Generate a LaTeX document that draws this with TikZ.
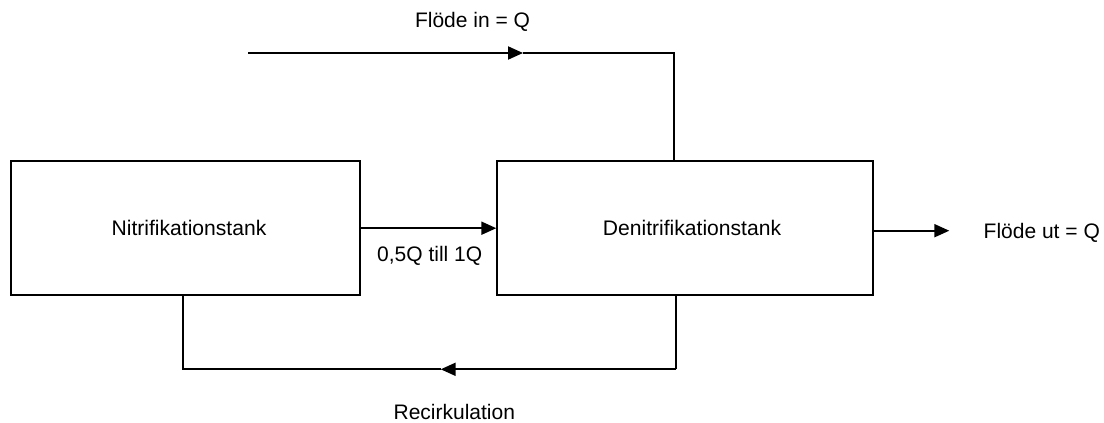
\documentclass[tikz,border=0pt]{standalone}
\usepackage{fontspec}
\setmainfont{Liberation Sans}
\usetikzlibrary{arrows.meta}
\begin{document}
\begin{tikzpicture}[x=0.5pt,y=-0.5pt,
  line width=1pt,
  tank/.style={draw, rectangle, inner sep=0pt, minimum height=67.15pt, font=\fontsize{10.55pt}{12pt}\selectfont},
  lbl/.style={inner sep=0pt, font=\fontsize{10.5pt}{12pt}\selectfont},
  tip/.style={-{Triangle[length=7.5pt,width=6.5pt]}}]
\useasboundingbox (0,0) rectangle (1104,423);
\node[tank, minimum width=174.65pt] (nitri) at (185.3,228.2) {\hspace*{3.7pt}Nitrifikationstank};
\node[tank, minimum width=187.7pt] (deni) at (685,228.2) {\hspace*{7pt}Denitrifikationstank};
% inflow
\coordinate (inStart) at (248,53);
\coordinate (inTip) at (523,53);
\coordinate (inCorner) at (674,53);
\draw[tip] (inStart) -- (inTip);
\draw (inTip) -- (inCorner) -- (inCorner |- deni.north);
\node[lbl] (inLbl) at (472.5,22) {Flöde in = Q};
% nitri -> deni
\draw[tip] (nitri.east) -- (deni.west);
\node[lbl] (midLbl) at (429.7,256) {0,5Q till 1Q};
% outflow
\coordinate (outTip) at (949.3,230.7);
\draw[tip] (deni.east |- outTip) -- (outTip);
\node[lbl, anchor=west] (outLbl) at (982.7,232.7) {Flöde ut = Q};
% recirculation
\coordinate (r1) at (676.3,369.3);
\coordinate (rTip) at (440.7,369.3);
\coordinate (r2) at (183.3,369.3);
\draw (r1 |- deni.south) -- (r1);
\draw[tip] (r1) -- (rTip);
\draw (rTip) -- (r2) -- (r2 |- nitri.south);
\node[lbl] (recLbl) at (454.3,411.7) {Recirkulation};
\end{tikzpicture}
\end{document}
